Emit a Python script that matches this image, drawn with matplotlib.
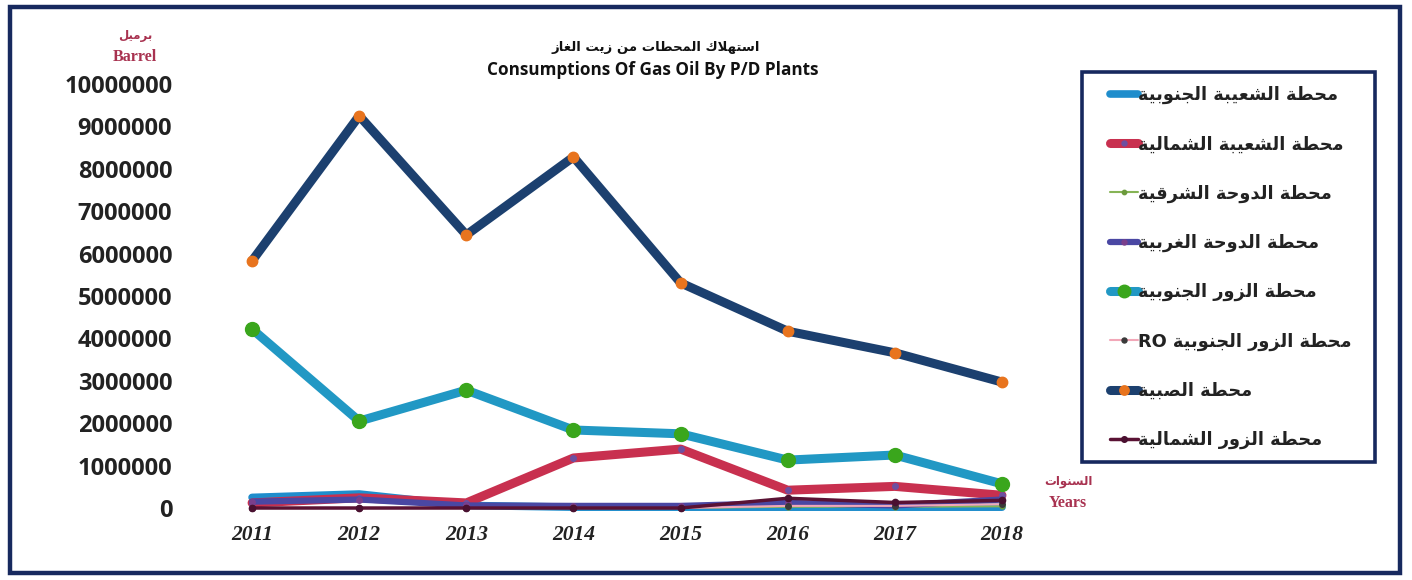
import matplotlib
matplotlib.use("Agg")
import matplotlib.pyplot as plt
from matplotlib.patches import Rectangle
from matplotlib.font_manager import FontProperties

# ---- data (barrels of gas oil) ----
years = [2011, 2012, 2013, 2014, 2015, 2016, 2017, 2018]

shuaiba_south = [250000, 330000, 60000, 20000, 20000, 20000, 20000, 20000]
shuaiba_north = [120000, 240000, 120000, 1180000, 1390000, 420000, 510000, 300000]
doha_east = [0, 0, 0, 0, 0, 30000, 30000, 40000]
doha_west = [150000, 200000, 60000, 50000, 50000, 120000, 60000, 200000]
zour_south = [4220000, 2050000, 2780000, 1840000, 1750000, 1130000, 1250000, 570000]
zour_south_ro = [0, 0, 0, 0, 0, 50000, 50000, 90000]
subiya = [5830000, 9250000, 6440000, 8280000, 5310000, 4170000, 3660000, 2970000]
zour_north = [0, 0, 0, 0, 0, 230000, 130000, 180000]

y_ticks = [0, 1000000, 2000000, 3000000, 4000000, 5000000,
           6000000, 7000000, 8000000, 9000000, 10000000]

names = [
    "محطة الشعيبة الجنوبية",
    "محطة الشعيبة الشمالية",
    "محطة الدوحة الشرقية",
    "محطة الدوحة الغربية",
    "محطة الزور الجنوبية",
    "محطة الزور الجنوبية",  # RO
    "محطة الصبية",
    "محطة الزور الشمالية",
]

# ---- minimal Arabic shaping (matplotlib has no bidi / joining) ----
DUAL = {
    'ب': (0xFE8F, 0xFE90, 0xFE91, 0xFE92), 'ت': (0xFE95, 0xFE96, 0xFE97, 0xFE98),
    'ج': (0xFE9D, 0xFE9E, 0xFE9F, 0xFEA0), 'ح': (0xFEA1, 0xFEA2, 0xFEA3, 0xFEA4),
    'س': (0xFEB1, 0xFEB2, 0xFEB3, 0xFEB4), 'ش': (0xFEB5, 0xFEB6, 0xFEB7, 0xFEB8),
    'ص': (0xFEB9, 0xFEBA, 0xFEBB, 0xFEBC), 'ط': (0xFEC1, 0xFEC2, 0xFEC3, 0xFEC4),
    'ع': (0xFEC9, 0xFECA, 0xFECB, 0xFECC), 'غ': (0xFECD, 0xFECE, 0xFECF, 0xFED0),
    'ق': (0xFED5, 0xFED6, 0xFED7, 0xFED8), 'ك': (0xFED9, 0xFEDA, 0xFEDB, 0xFEDC),
    'ل': (0xFEDD, 0xFEDE, 0xFEDF, 0xFEE0), 'م': (0xFEE1, 0xFEE2, 0xFEE3, 0xFEE4),
    'ن': (0xFEE5, 0xFEE6, 0xFEE7, 0xFEE8), 'ه': (0xFEE9, 0xFEEA, 0xFEEB, 0xFEEC),
    'ي': (0xFEF1, 0xFEF2, 0xFEF3, 0xFEF4),
}
RIGHT = {
    'ا': (0xFE8D, 0xFE8E), 'ة': (0xFE93, 0xFE94), 'د': (0xFEA9, 0xFEAA),
    'ر': (0xFEAD, 0xFEAE), 'ز': (0xFEAF, 0xFEB0), 'و': (0xFEED, 0xFEEE),
    'لا': (0xFEFB, 0xFEFC),
}


def ar(text):
    # merge lam + alef into one ligature unit
    units = []
    i = 0
    while i < len(text):
        if text[i] == 'ل' and i + 1 < len(text) and text[i + 1] == 'ا':
            units.append('لا')
            i += 2
        else:
            units.append(text[i])
            i += 1
    out = []
    for k, u in enumerate(units):
        prev = units[k - 1] if k > 0 else None
        nxt = units[k + 1] if k + 1 < len(units) else None
        joins_prev = prev in DUAL and (u in DUAL or u in RIGHT)
        joins_next = u in DUAL and (nxt in DUAL or nxt in RIGHT)
        if u in DUAL:
            iso, fin, ini, med = DUAL[u]
            if joins_prev and joins_next:
                out.append(chr(med))
            elif joins_prev:
                out.append(chr(fin))
            elif joins_next:
                out.append(chr(ini))
            else:
                out.append(chr(iso))
        elif u in RIGHT:
            iso, fin = RIGHT[u]
            out.append(chr(fin if joins_prev else iso))
        else:
            out.append(u)
    return ''.join(reversed(out))


labels = [ar(n) for n in names]
labels[5] = "RO " + labels[5]

# ---- figure ----
W, H = 1412, 580
fig = plt.figure(figsize=(W / 100, H / 100), dpi=100)
fig.patch.set_facecolor("white")

ax = fig.add_axes([200 / W, 0.1095, 850 / W, 0.7676])
ax.set_xlim(2010.514, 2018.448)
ax.set_ylim(-200000, 10300000)

series = [
    (shuaiba_south, dict(color="#1f8dcc", lw=5.5)),
    (shuaiba_north, dict(color="#c8304f", lw=6.5, marker="o", ms=4,
                         mfc="#6d4fa0", mec="#6d4fa0")),
    (doha_east, dict(color="#86b455", lw=1.5, marker="o", ms=3.5,
                     mfc="#6c9a3c", mec="#6c9a3c")),
    (doha_west, dict(color="#4a47a3", lw=4.5, marker="o", ms=4,
                     mfc="#7a3f8c", mec="#7a3f8c")),
    (zour_south, dict(color="#2198c4", lw=6.5, marker="o", ms=10,
                      mfc="#3aa61c", mec="#3aa61c")),
    (zour_south_ro, dict(color="#f2a7b8", lw=1.5, marker="o", ms=4,
                         mfc="#3a3a3a", mec="#3a3a3a")),
    (subiya, dict(color="#1c406f", lw=6.5, marker="o", ms=7.5,
                  mfc="#e8741e", mec="#e8741e")),
    (zour_north, dict(color="#5a1234", lw=2.5, marker="o", ms=4.5,
                      mfc="#4a1030", mec="#4a1030")),
]

handles = []
for vals, style in series:
    ln, = ax.plot(years, vals, solid_capstyle="round", clip_on=False, **style)
    handles.append(ln)

for s in ax.spines.values():
    s.set_visible(False)

ax.set_xticks(years)
ax.set_xticklabels([str(y) for y in years],
                   fontfamily="Liberation Serif", fontweight="bold",
                   fontstyle="italic", fontsize=15.5, color="#222222")
ax.set_yticks(y_ticks)
ax.set_yticklabels([str(v) for v in y_ticks],
                   fontfamily="Open Sans", fontweight="bold",
                   fontsize=17, color="#222222")
ax.tick_params(axis="y", length=0, pad=20)
ax.tick_params(axis="x", length=0, pad=6)

# titles
arabic_font = ["DejaVu Sans"]
fig.text(656 / W, 1 - 48 / H, ar("استهلاك المحطات من زيت الغاز"),
         ha="center", va="center", family=arabic_font, fontweight="bold",
         fontsize=9.5, color="#111111")
fig.text(653 / W, 1 - 70 / H, "Consumptions Of Gas Oil By P/D Plants",
         ha="center", va="center", family="Open Sans", fontweight="bold",
         fontsize=12.3, color="#111111")

# unit labels
crimson = "#a83250"
fig.text(135 / W, 1 - 35 / H, ar("برميل"), ha="center", va="center",
         family=arabic_font, fontweight="bold", fontsize=8.5, color=crimson)
fig.text(135 / W, 1 - 57 / H, "Barrel", ha="center", va="center",
         family="Liberation Serif", fontweight="bold", fontsize=11.5,
         color=crimson)
fig.text(1068 / W, 1 - 481 / H, ar("السنوات"), ha="center", va="center",
         family=arabic_font, fontweight="bold", fontsize=8.5, color=crimson)
fig.text(1068 / W, 1 - 503 / H, "Years", ha="center", va="center",
         family="Liberation Serif", fontweight="bold", fontsize=11.5,
         color=crimson)

# legend entries, with a separate box drawn around them
navy = "#17295e"
leg = fig.legend(handles, labels, loc="upper left",
                 bbox_to_anchor=(1110 / W, 1 - 86 / H),
                 frameon=False,
                 prop=FontProperties(family=arabic_font, weight="bold", size=12.8),
                 handlelength=1.6, handletextpad=0.0, labelspacing=1.75,
                 borderpad=0.0, borderaxespad=0.0, markerscale=0.9)
for t in leg.get_texts():
    t.set_color("#222222")

fig.patches.append(Rectangle((1082 / W, 1 - 462 / H), 293 / W, 390 / H,
                             transform=fig.transFigure, fill=False,
                             edgecolor=navy, linewidth=2.6))

# outer frame
fig.patches.append(Rectangle((10 / W, 7 / H), 1390 / W, 566 / H,
                             transform=fig.transFigure, fill=False,
                             edgecolor=navy, linewidth=3.2))

fig.savefig("out.png", dpi=100)
